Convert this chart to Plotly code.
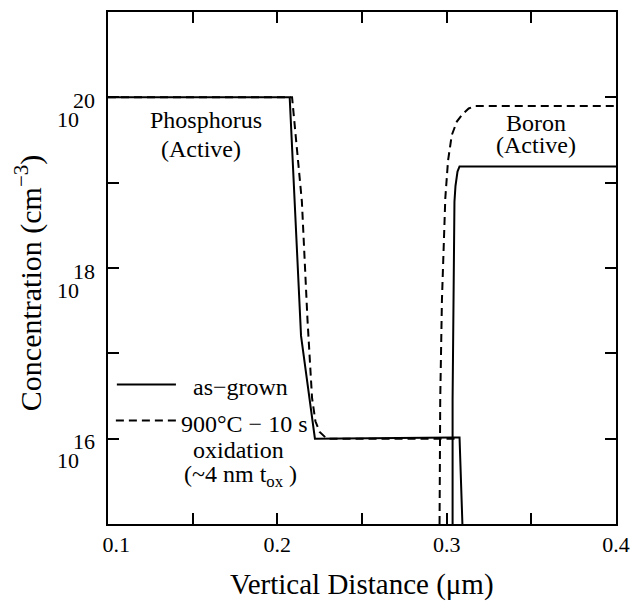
import plotly.graph_objects as go

# ---------------- data ----------------
asgrown_p_x = [0.100, 0.2073, 0.2140, 0.2222, 0.3040, 0.3076, 0.3093]
asgrown_p_y = [1e20, 1e20, 1.6e17, 1e16, 1.03e16, 1.03e16, 1e15]

oxid_p_x = [0.100, 0.2087, 0.2145, 0.2178, 0.2205, 0.2225, 0.2250, 0.2292, 0.3060]
oxid_p_y = [1e20, 1e20, 6e18, 2.5e17, 3e16, 1.6e16, 1.2e16, 1e16, 1e16]

asgrown_b_x = [0.3035, 0.3035, 0.3046, 0.3052, 0.3064, 0.3076, 0.400]
asgrown_b_y = [1e15, 2.9e16, 6.0e18, 9.1e18, 1.35e19, 1.55e19, 1.55e19]

oxid_b_x = [0.2958, 0.2962, 0.2972, 0.2992, 0.3008, 0.3030, 0.3060, 0.3092, 0.3130, 0.3170, 0.400]
oxid_b_y = [1e15, 2.9e16, 4.2e17, 6.6e18, 1.8e19, 3.6e19, 5.2e19, 6.3e19, 7.4e19, 7.9e19, 7.9e19]

x_tickvals = [0.1, 0.15, 0.2, 0.25, 0.3, 0.35, 0.4]
x_ticktext = ["\u00a0\u00a0\u00a00.1", "", "0.2", "", "0.3", "", "0.4"]
y_tickvals = [1e15, 1e16, 1e17, 1e18, 1e19, 1e20, 1e21]
y_label_exponents = [16, 18, 20]

FONT = "Liberation Serif"
W, H = 640, 603
ML, MR, MT, MB = 108, 16, 10, 79
PW, PH = W - ML - MR, H - MT - MB


def pxx(x):
    return (x - ML) / PW


def pxy(y):
    return (H - MB - y) / PH


fig = go.Figure()
line_w = 2
fig.add_trace(go.Scatter(x=asgrown_p_x, y=asgrown_p_y, mode="lines",
                         line=dict(color="black", width=line_w), showlegend=False))
fig.add_trace(go.Scatter(x=oxid_p_x, y=oxid_p_y, mode="lines",
                         line=dict(color="black", width=line_w, dash="8px,5px"), showlegend=False))
fig.add_trace(go.Scatter(x=asgrown_b_x, y=asgrown_b_y, mode="lines",
                         line=dict(color="black", width=line_w), showlegend=False))
fig.add_trace(go.Scatter(x=oxid_b_x, y=oxid_b_y, mode="lines",
                         line=dict(color="black", width=line_w, dash="8px,5px"), showlegend=False))

axis_common = dict(showgrid=False, zeroline=False, showline=True, linecolor="black",
                   linewidth=2, ticks="inside", ticklen=11, tickwidth=1.5,
                   tickcolor="black", mirror="allticks")

fig.update_xaxes(range=[0.1, 0.4], tickvals=x_tickvals, ticktext=x_ticktext,
                 tickfont=dict(family=FONT, size=22, color="black"), **axis_common)
fig.update_yaxes(type="log", range=[15, 21], tickvals=y_tickvals, showticklabels=False,
                 **axis_common)

ann = []
for e in y_label_exponents:
    ann.append(dict(x=0, xref="paper", y=e, yref="y", text="10", showarrow=False,
                    xanchor="center", yanchor="middle", xshift=-40, yshift=-22,
                    font=dict(family=FONT, size=22, color="black")))
    ann.append(dict(x=0, xref="paper", y=e, yref="y", text=str(e), showarrow=False,
                    xanchor="center", yanchor="middle", xshift=-24, yshift=-3,
                    font=dict(family=FONT, size=22, color="black")))

txt_font = dict(family=FONT, size=24, color="black")
texts = [
    ("Phosphorus", 208, 118),
    ("(Active)", 202, 148),
    ("Boron", 543, 121),
    ("(Active)", 543, 144),
    ("as\u2212grown", 243, 386),
    ("900\u00b0C \u2212 10 s", 246, 424),
    ("oxidation", 241, 450),
    ("(~4 nm t<sub>ox</sub> )", 243, 476),
]
for t, x, y in texts:
    ann.append(dict(x=pxx(x), y=pxy(y), xref="paper", yref="paper", text=t,
                    showarrow=False, xanchor="center", yanchor="middle", font=txt_font))

# axis titles
ann.append(dict(x=pxx(366), y=pxy(585), xref="paper", yref="paper",
                text="Vertical Distance (\u03bcm)", showarrow=False,
                xanchor="center", yanchor="middle",
                font=dict(family=FONT, size=29, color="black")))
ann.append(dict(x=pxx(28), y=pxy(282), xref="paper", yref="paper",
                text="Concentration (cm<sup>\u22123</sup>)", showarrow=False,
                textangle=-90, xanchor="center", yanchor="middle",
                font=dict(family=FONT, size=30, color="black")))

shapes = [
    dict(type="line", xref="paper", yref="paper", x0=pxx(117), x1=pxx(177),
         y0=pxy(384), y1=pxy(384), line=dict(color="black", width=2)),
    dict(type="line", xref="paper", yref="paper", x0=pxx(116), x1=pxx(177),
         y0=pxy(420), y1=pxy(420), line=dict(color="black", width=2, dash="8px,5px")),
]

fig.update_layout(width=W, height=H, margin=dict(l=ML, r=MR, t=MT, b=MB),
                  paper_bgcolor="white", plot_bgcolor="white",
                  annotations=ann, shapes=shapes, showlegend=False)

fig.write_html("out.html")
